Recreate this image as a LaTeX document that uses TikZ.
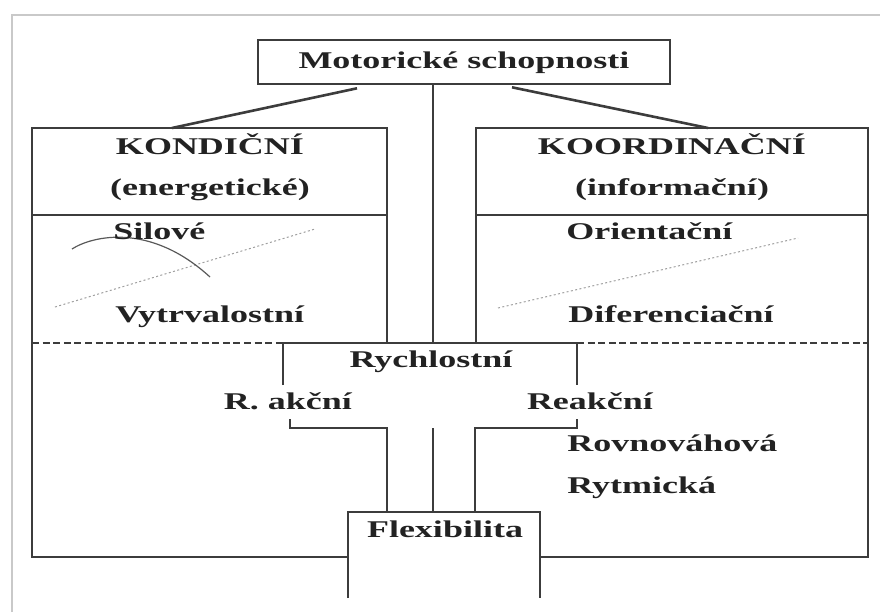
\documentclass[tikz,border=0pt]{standalone}
\usepackage{fontspec}
\setmainfont[FakeStretch=1.5]{Liberation Serif}
\usepackage{xcolor}

\definecolor{linienfarbe}{HTML}{3C3C3C}
\definecolor{schrift}{HTML}{222222}
\definecolor{rahmen}{HTML}{C9C9C9}

\begin{document}
\begin{tikzpicture}[x=0.5pt,y=-0.5pt,
    strich/.style={draw=linienfarbe, line width=1.3pt},
    strichel/.style={draw=linienfarbe, line width=0.8pt, dash pattern=on 3.5pt off 1.8pt},
    punkte/.style={draw=gray!75, line width=0.5pt, dash pattern=on 1pt off 1.2pt},
    kasten/.style={strich, minimum width=206pt, minimum height=22pt, inner sep=0pt,
        text height=8.5pt, text depth=2.5pt},
    titel/.style={font=\bfseries\fontsize{12}{14}\selectfont, text=schrift, inner sep=0pt, anchor=base},
    eintrag/.style={titel, anchor=base west},
]
    % Rahmen
    \useasboundingbox (0,0) rectangle (880,612);
    \draw[rahmen, line width=1.2pt] (12,612) -- (12,15) -- (880,15);

    % Oberster Kasten
    \node[kasten, titel, anchor=center] (motor) at (464,62) {Motorické schopnosti};

    % Kondiční Seite
    \draw[strich] (387,343) -- (387,128) -- (32,128) -- (32,557) -- (348,557);
    \draw[strich] (32,215) -- (387,215);
    \draw[strichel] (32,343) -- (283,343);

    % Koordinační Seite
    \draw[strich] (476,343) -- (476,128) -- (868,128) -- (868,557) -- (540,557);
    \draw[strich] (476,215) -- (868,215);
    \draw[strichel] (577,343) -- (868,343);

    % Rychlostní
    \draw[strich] (283,385) -- (283,343) -- (577,343) -- (577,385);

    % Klammern
    \draw[strich] (290,419) -- (290,428) -- (387,428) -- (387,512);
    \draw[strich] (577,419) -- (577,428) -- (475,428) -- (475,512);

    % Flexibilita (unten offen)
    \draw[strich] (348,598) -- (348,512) -- (540,512) -- (540,598);

    % Verbindungen vom obersten Kasten
    \coordinate (kondoben) at (172,128);
    \coordinate (koordoben) at (708,128);
    \coordinate (mitte) at (433,343);
    \coordinate (mitteunten) at (433,428);
    \coordinate (flexoben) at (433,512);
    \draw[strich] ([xshift=-53.5pt,yshift=-1.5pt]motor.south) -- (kondoben);
    \draw[strich] ([xshift=24pt,yshift=-1pt]motor.south) -- (koordoben);
    \draw[strich] ([xshift=-15.5pt]motor.south) -- (mitte);
    \draw[strich] (mitteunten) -- (flexoben);

    % Skizzierte Linien
    \draw[punkte] (55,307) -- (315,229);
    \draw[punkte] (498,308) -- (798,238);
    \draw[gray!70!black, line width=0.6pt] (72,249) .. controls (92,236) and (150,222) .. (210,277);

    % Beschriftungen
    \node[titel] (kond) at (210,154) {KONDIČNÍ};
    \node[titel] (energ) at (210,195) {(energetické)};
    \node[titel] (koord) at (672,154) {KOORDINAČNÍ};
    \node[titel] (inform) at (672,195) {(informační)};
    \node[eintrag] (silove) at (113,239) {Silové};
    \node[eintrag] (vytrv) at (115,322) {Vytrvalostní};
    \node[eintrag] (orient) at (566,239) {Orientační};
    \node[eintrag] (difer) at (568,322) {Diferenciační};
    \node[titel] (rychl) at (431,367) {Rychlostní};
    \node[titel] (akcni) at (288,409) {R. akční};
    \node[titel] (reakcni) at (590,409) {Reakční};
    \node[eintrag] (rovnov) at (567,451) {Rovnováhová};
    \node[eintrag] (rytm) at (567,493) {Rytmická};
    \node[titel] (flex) at (445,537) {Flexibilita};
\end{tikzpicture}
\end{document}
